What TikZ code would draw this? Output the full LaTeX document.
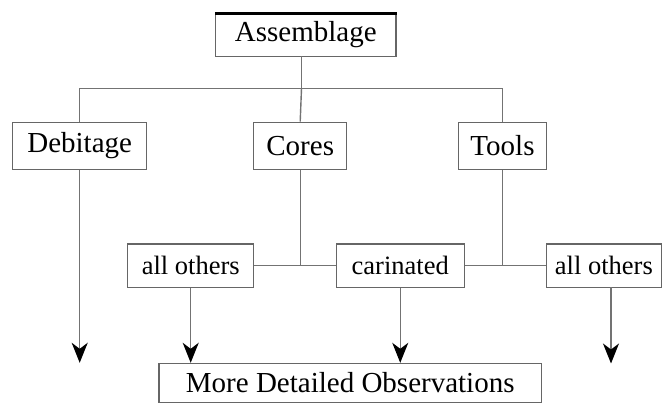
\documentclass[tikz,border=0pt]{standalone}
\usepackage{fontspec}
\setmainfont{Liberation Serif}
\usetikzlibrary{arrows.meta}
\begin{document}
\begin{tikzpicture}[x=1pt,y=-1pt,
  box/.style={draw=black!60, line width=1.4pt, inner sep=0pt, font=\fontsize{29}{30}\selectfont},
  sbox/.style={box, font=\fontsize{26.5}{28}\selectfont},
  conn/.style={draw=black!55, line width=1.4pt},
  arr/.style={conn, -{Stealth[length=20pt,width=16pt,inset=6pt,black]}}]
\useasboundingbox (0,0) rectangle (663,404);
\node[box, minimum width=180.5pt, minimum height=43pt] (asm) at (305.75,35) {Assemblage};
\node[box, minimum width=134pt, minimum height=47pt] (deb) at (79.7,145.8) {Debitage};
\node[box, minimum width=93pt, minimum height=47pt] (cores) at (300.2,145.8) {Cores};
\node[box, minimum width=87.5pt, minimum height=47pt] (tools) at (502.5,145.8) {Tools};
\node[sbox, minimum width=126pt, minimum height=43.3pt] (ao1) at (190.7,265.7) {all others};
\node[sbox, minimum width=128pt, minimum height=43.3pt] (car) at (400.25,265.7) {carinated};
\node[sbox, minimum width=115.2pt, minimum height=43.3pt] (ao2) at (603.9,265.7) {all others};
\node[box, minimum width=382.5pt, minimum height=39pt] (mdo) at (350.25,383) {More Detailed Observations};
\draw[black, line width=2.5pt] ([yshift=-0.5pt]asm.north west) -- ([yshift=-0.5pt]asm.north east);
% top tree
\coordinate (atop) at (301.5,56.5);
\coordinate (jn) at (301.5,88.3);
\draw[conn] (atop) -- (jn);
\draw[conn] (deb.north) |- (jn) -| (tools.north);
\draw[conn] (jn) -- (cores.north);
% cores and tools junctions
\coordinate (jc) at (cores.south |- ao1.east);
\coordinate (jt) at (tools.south |- car.east);
\draw[conn] (cores.south) -- (jc);
\draw[conn] (ao1.east) -- (car.west);
\draw[conn] (tools.south) -- (jt);
\draw[conn] (car.east) -- (ao2.west);
% arrows
\coordinate (dend) at (deb.south |- mdo.north);
\draw[arr] (deb.south) -- (dend);
\draw[arr] (ao1.south) -- (ao1.south |- mdo.north);
\draw[arr] (car.south) -- (car.south |- mdo.north);
\coordinate (a2s) at (611,287.3);
\coordinate (a2e) at (611,363.5);
\draw[arr] (a2s) -- (a2e);
\end{tikzpicture}
\end{document}
